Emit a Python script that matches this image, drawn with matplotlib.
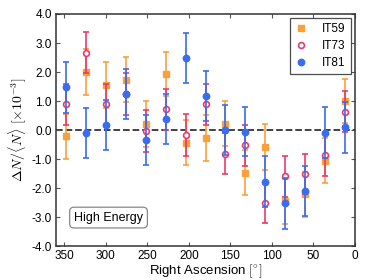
"""
Dipole-like anisotropy vs right ascension, three detector configurations
"""
import matplotlib.pyplot as plt
from matplotlib.lines import Line2D

plt.rcParams['font.family'] = ['Liberation Sans', 'DejaVu Sans']
plt.rcParams['mathtext.fontset'] = 'cm'

# bin centers in right ascension, degrees
ra = [348, 324, 300, 276, 252, 228, 204, 180, 156, 132, 108, 84, 60, 36, 12]

# relative intensity, x 1e-3
it59 = [-0.22, 2.01, 1.54, 1.74, 0.22, 1.93, -0.43, -0.28, 0.22, -1.47, -0.59, -2.45, -2.22, -1.05, 1.00]
it59_err = [0.79, 0.79, 0.79, 0.77, 0.79, 0.77, 0.79, 0.79, 0.78, 0.78, 0.79, 0.78, 0.78, 0.78, 0.77]

it73 = [0.89, 2.67, 0.89, 1.25, -0.03, 0.72, -0.18, 0.89, -0.82, -0.52, -2.51, -1.60, -1.52, -0.86, 0.63]
it73_err = [0.71, 0.71, 0.71, 0.73, 0.72, 0.71, 0.72, 0.70, 0.71, 0.71, 0.70, 0.70, 0.70, 0.71, 0.71]

it81 = [1.47, -0.11, 0.18, 1.24, -0.33, 0.38, 2.47, 1.16, 0.01, -0.05, -1.78, -2.52, -2.10, -0.09, 0.10]
it81_err = [0.87, 0.86, 0.87, 0.86, 0.86, 0.87, 0.86, 0.86, 0.86, 0.86, 0.87, 0.88, 0.87, 0.88, 0.88]

c59 = '#F9A03A'
c73 = '#EE3868'
c81 = '#3A6CF2'

fig = plt.figure(figsize=(3.74, 2.8), dpi=100)
ax = fig.add_axes([0.150, 0.121, 0.799, 0.829])

ax.axhline(0, color='#333333', linestyle='--', linewidth=1.3, zorder=1)

ax.errorbar(ra, it59, yerr=it59_err, fmt='s', color=c59, ms=4.2, capsize=2.3,
            elinewidth=1.2, capthick=1.2, zorder=2)
ax.errorbar(ra, it73, yerr=it73_err, fmt='o', color=c73, mfc='white', mec=c73,
            mew=1.2, ms=4.2, capsize=2.3, elinewidth=1.2, capthick=1.2, zorder=3)
ax.errorbar(ra, it81, yerr=it81_err, fmt='o', color=c81, ms=4.6, capsize=2.3,
            elinewidth=1.2, capthick=1.2, zorder=4)

ax.set_xlim(360, 0)
ax.set_ylim(-4, 4)
ax.set_xticks([350, 300, 250, 200, 150, 100, 50, 0])
ax.set_yticks([-4, -3, -2, -1, 0, 1, 2, 3, 4])
ax.set_yticklabels(['-4.0', '-3.0', '-2.0', '-1.0', '0.0', '1.0', '2.0', '3.0', '4.0'])
ax.tick_params(direction='in', top=True, right=True, labelsize=8.5,
               length=3, width=0.8, color='#555555', pad=3)
for s in ax.spines.values():
    s.set_linewidth(1.1)
    s.set_color('#333333')

ax.set_xlabel(r'Right Ascension $[^{\circ}]$', fontsize=9.5, labelpad=0)
ax.set_ylabel(r'$\Delta N/\langle N\rangle\ [\times 10^{-3}]$', fontsize=10, labelpad=2)

handles = [
    Line2D([], [], ls='none', marker='s', ms=4.2, color=c59),
    Line2D([], [], ls='none', marker='o', ms=4.2, mfc='white', mec=c73, mew=1.2),
    Line2D([], [], ls='none', marker='o', ms=4.6, color=c81),
]
leg = ax.legend(handles, ['IT59', 'IT73', 'IT81'], loc='upper right', fontsize=8.5,
                frameon=True, fancybox=False, edgecolor='#222222', borderpad=0.45,
                handlelength=1.0, handletextpad=1.3, labelspacing=0.4,
                borderaxespad=0.35)
leg.get_frame().set_linewidth(0.9)

ax.text(0.06, 0.11, 'High Energy', transform=ax.transAxes, fontsize=9,
        bbox=dict(boxstyle='round,pad=0.35', fc='white', ec='#888888', lw=0.9))

plt.savefig('out.png', dpi=100)
plt.close()
